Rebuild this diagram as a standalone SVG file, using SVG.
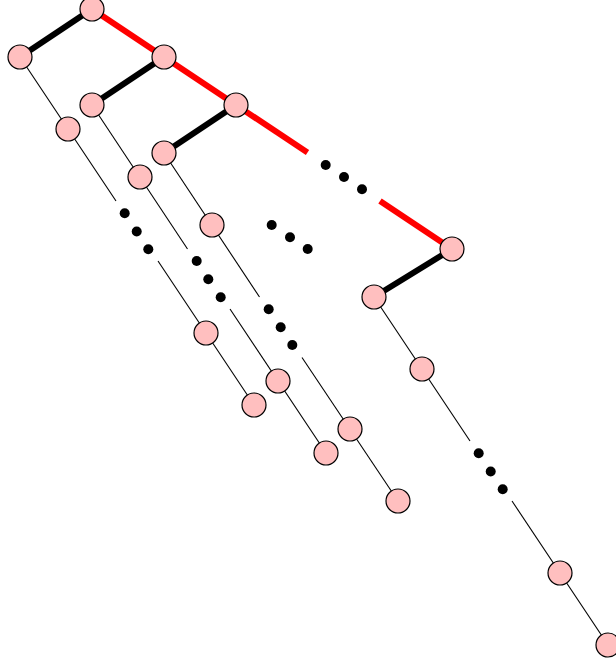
<svg xmlns="http://www.w3.org/2000/svg" width="616" height="663" viewBox="0 0 616 663">
<style>
.n{fill:#ffbfbf;stroke:#000;stroke-width:1.2}
.thin{stroke:#000;stroke-width:1.1;fill:none}
.thick{stroke:#000;stroke-width:6;fill:none}
.red{stroke:#ff0000;stroke-width:6;fill:none}
.d{fill:#000}
</style>
<rect width="616" height="663" fill="#fff"/>
<g id="connectors">
<line class="thick" x1="92" y1="9" x2="20" y2="57"/>
<line class="thick" x1="164" y1="57" x2="92" y2="105"/>
<line class="thick" x1="236" y1="105" x2="164" y2="153"/>
<line class="thick" x1="452" y1="249" x2="374" y2="297"/>
<line class="red" x1="92" y1="9" x2="236" y2="105"/>
<line class="red" x1="236" y1="105" x2="307.5" y2="152.5"/>
<line class="red" x1="380" y1="201" x2="452" y2="249"/>
<line class="thin" x1="20" y1="57" x2="116" y2="201"/>
<line class="thin" x1="158" y1="261" x2="254" y2="405"/>
<line class="thin" x1="92" y1="105" x2="187.5" y2="249"/>
<line class="thin" x1="230" y1="309" x2="326" y2="453"/>
<line class="thin" x1="164" y1="153" x2="259.5" y2="297"/>
<line class="thin" x1="302" y1="357.5" x2="398" y2="501"/>
<line class="thin" x1="374" y1="297" x2="470" y2="441"/>
<line class="thin" x1="512" y1="501" x2="608" y2="645"/>
</g>
<g id="dots">
<circle class="d" cx="325.7" cy="165" r="5"/>
<circle class="d" cx="344" cy="177" r="5"/>
<circle class="d" cx="362" cy="189.3" r="5"/>
<circle class="d" cx="271.7" cy="225" r="5"/>
<circle class="d" cx="290" cy="237.3" r="5"/>
<circle class="d" cx="307.7" cy="249" r="5"/>
<circle class="d" cx="124.7" cy="213.3" r="5"/>
<circle class="d" cx="136.7" cy="231.5" r="5"/>
<circle class="d" cx="148.3" cy="249.3" r="5"/>
<circle class="d" cx="196.7" cy="261" r="5"/>
<circle class="d" cx="208.3" cy="279.3" r="5"/>
<circle class="d" cx="220.7" cy="297.3" r="5"/>
<circle class="d" cx="268.7" cy="309.3" r="5"/>
<circle class="d" cx="280.7" cy="327.3" r="5"/>
<circle class="d" cx="292.3" cy="345" r="5"/>
<circle class="d" cx="478.7" cy="453.3" r="5"/>
<circle class="d" cx="490.7" cy="471.5" r="5"/>
<circle class="d" cx="502.7" cy="489.3" r="5"/>
</g>
<g id="nA"><circle class="n" cx="92" cy="9" r="12"/></g>
<g id="nB"><circle class="n" cx="20" cy="57" r="12"/></g>
<g id="nC"><circle class="n" cx="164" cy="57" r="12"/></g>
<g id="nD"><circle class="n" cx="92" cy="105" r="12"/></g>
<g id="nE"><circle class="n" cx="236" cy="105" r="12"/></g>
<g id="nF"><circle class="n" cx="164" cy="153" r="12"/></g>
<g id="nG"><circle class="n" cx="68" cy="129" r="12"/></g>
<g id="nH"><circle class="n" cx="140" cy="177" r="12"/></g>
<g id="nI"><circle class="n" cx="212" cy="225" r="12"/></g>
<g id="nJ"><circle class="n" cx="452" cy="249" r="12"/></g>
<g id="nK"><circle class="n" cx="374" cy="297" r="12"/></g>
<g id="nL"><circle class="n" cx="422" cy="369" r="12"/></g>
<g id="nM"><circle class="n" cx="206" cy="333" r="12"/></g>
<g id="nN"><circle class="n" cx="254" cy="405" r="12"/></g>
<g id="nO"><circle class="n" cx="278" cy="381" r="12"/></g>
<g id="nP"><circle class="n" cx="326" cy="453" r="12"/></g>
<g id="nQ"><circle class="n" cx="350" cy="429" r="12"/></g>
<g id="nR"><circle class="n" cx="398" cy="501" r="12"/></g>
<g id="nS"><circle class="n" cx="560" cy="573" r="12"/></g>
<g id="nT"><circle class="n" cx="608" cy="645" r="12"/></g>
</svg>
